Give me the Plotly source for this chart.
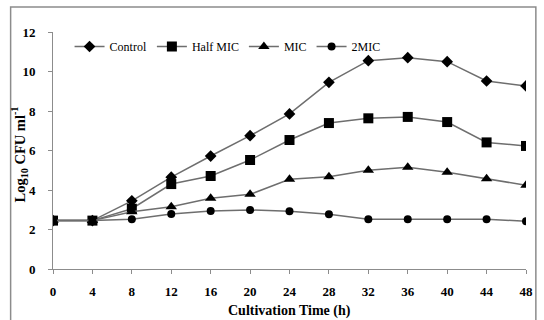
import plotly.graph_objects as go

hours = [0, 4, 8, 12, 16, 20, 24, 28, 32, 36, 40, 44, 48]
control = [2.45, 2.45, 3.45, 4.65, 5.72, 6.75, 7.85, 9.45, 10.55, 10.7, 10.5, 9.52, 9.27]
half_mic = [2.45, 2.45, 3.05, 4.3, 4.71, 5.52, 6.53, 7.39, 7.63, 7.7, 7.44, 6.41, 6.23]
mic = [2.45, 2.45, 2.9, 3.15, 3.58, 3.78, 4.54, 4.67, 5.0, 5.15, 4.9, 4.57, 4.24]
mic2 = [2.45, 2.45, 2.52, 2.78, 2.94, 2.99, 2.92, 2.77, 2.52, 2.52, 2.52, 2.52, 2.42]
y_ticks = [0, 2, 4, 6, 8, 10, 12]

series = [
    ("Control", control, "diamond", 9),
    ("Half MIC", half_mic, "square", 10),
    ("MIC", mic, "triangle-up", 10),
    ("2MIC", mic2, "circle", 8),
]

fig = go.Figure()
for name, vals, sym, sz in series:
    fig.add_trace(go.Scatter(
        x=hours, y=vals, name=name, mode="lines+markers",
        line=dict(color="#6e6e6e", width=1.5),
        marker=dict(symbol=sym, size=sz, color="black"),
    ))

serif = "Liberation Serif, Times New Roman, serif"
fig.update_layout(
    width=544, height=320,
    margin=dict(l=53, r=11, t=32, b=51),
    paper_bgcolor="white", plot_bgcolor="white",
    font=dict(family=serif, color="black", size=12),
    showlegend=True,
    legend=dict(orientation="h", x=0.035, y=1.0, xanchor="left", yanchor="top",
                bgcolor="rgba(0,0,0,0)", font=dict(size=12, family=serif),
                itemwidth=30, tracegroupgap=0),
    xaxis=dict(range=[0, 48], tickvals=hours, ticktext=[f"<b>{h}</b>" for h in hours],
               showline=True, linecolor="#8c8c8c", linewidth=1, ticks="outside",
               tickcolor="#8c8c8c", ticklen=4, showgrid=False, zeroline=False,
               tickfont=dict(size=13, family=serif), ticklabelstandoff=6),
    yaxis=dict(range=[0, 12], tickvals=y_ticks,
               ticktext=[f"<b>{v}</b>" for v in y_ticks],
               showline=True, linecolor="#8c8c8c", linewidth=1, ticks="outside",
               tickcolor="#8c8c8c", ticklen=4, showgrid=False, zeroline=False,
               tickfont=dict(size=13, family=serif), ticklabelstandoff=10),
    annotations=[
        dict(text="<b>Log<sub>10</sub> CFU ml<sup>-1</sup></b>", textangle=-90,
             xref="paper", yref="paper", x=(19 - 53) / 480, y=(269 - 154) / 237,
             xanchor="center", yanchor="middle", showarrow=False,
             font=dict(size=14.5, family=serif)),
        dict(text="<b>Cultivation Time (h)</b>",
             xref="paper", yref="paper", x=(293 - 53) / 480, y=(269 - 311) / 237,
             xanchor="center", yanchor="middle", showarrow=False,
             font=dict(size=14, family=serif)),
    ],
    shapes=[dict(type="rect", xref="paper", yref="paper",
                 x0=(10 - 53) / 480, x1=(543 - 53) / 480,
                 y0=-0.4, y1=1 + (32 - 7) / 237,
                 line=dict(color="#8c8c8c", width=1.5), fillcolor="rgba(0,0,0,0)", layer="below")],
)

fig.write_html("out.html", config={"displayModeBar": False},
               post_script="document.body.style.margin='0';document.body.style.overflow='hidden';")
